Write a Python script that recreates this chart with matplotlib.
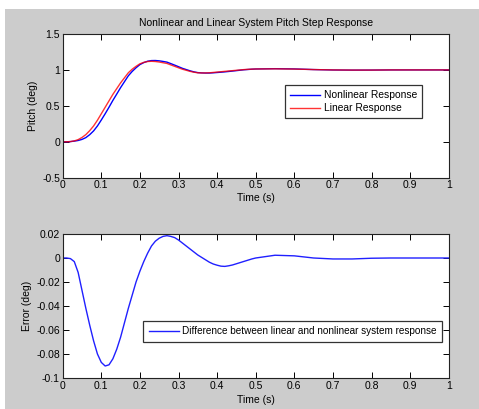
import matplotlib
matplotlib.use("Agg")
import matplotlib.pyplot as plt
from matplotlib.patches import Rectangle

# time samples (s)
t = [0.00, 0.01, 0.02, 0.03, 0.04, 0.05, 0.06, 0.07, 0.08, 0.09,
     0.10, 0.11, 0.12, 0.13, 0.14, 0.15, 0.16, 0.17, 0.18, 0.19,
     0.20, 0.21, 0.22, 0.23, 0.24, 0.25, 0.26, 0.27, 0.28, 0.29,
     0.30, 0.31, 0.32, 0.33, 0.34, 0.35, 0.36, 0.37, 0.38, 0.39,
     0.40, 0.41, 0.42, 0.43, 0.44, 0.45, 0.46, 0.47, 0.48, 0.49,
     0.50, 0.55, 0.60, 0.65, 0.70, 0.75, 0.80, 0.85, 0.90, 0.95, 1.00]

# linear model pitch (deg)
linear = [0.0, 0.0, 0.003, 0.012, 0.030, 0.060, 0.100, 0.155, 0.220, 0.300,
          0.390, 0.480, 0.570, 0.660, 0.740, 0.820, 0.890, 0.960, 1.010, 1.050,
          1.085, 1.105, 1.117, 1.120, 1.117, 1.110, 1.100, 1.090, 1.070, 1.050,
          1.030, 1.010, 0.995, 0.980, 0.968, 0.960, 0.958, 0.958, 0.960, 0.965,
          0.970, 0.975, 0.980, 0.985, 0.990, 0.995, 1.000, 1.005, 1.008, 1.011,
          1.013, 1.015, 1.012, 1.005, 1.000, 0.998, 0.998, 1.000, 1.000, 1.000, 1.000]

# nonlinear model pitch (deg)
nonlinear = [0.0, 0.0, 0.0025, 0.009, 0.018, 0.033, 0.058, 0.099, 0.151, 0.220,
             0.303, 0.390, 0.481, 0.576, 0.664, 0.754, 0.836, 0.918, 0.979, 1.030,
             1.074, 1.102, 1.121, 1.130, 1.131, 1.1265, 1.118, 1.1086, 1.088, 1.067,
             1.045, 1.0225, 1.005, 0.9875, 0.973, 0.9625, 0.9585, 0.9565, 0.9565, 0.960,
             0.964, 0.9682, 0.973, 0.9785, 0.9842, 0.9902, 0.9962, 1.0022, 1.0062, 1.0102,
             1.013, 1.0173, 1.0138, 1.005, 0.9992, 0.9972, 0.9978, 1.000, 1.000, 1.000, 1.000]

# nonlinear - linear (deg)
error = [0.0, 0.0, -0.0005, -0.003, -0.012, -0.027, -0.042, -0.056, -0.069, -0.080,
         -0.087, -0.090, -0.089, -0.084, -0.076, -0.066, -0.054, -0.042, -0.031, -0.020,
         -0.011, -0.003, 0.004, 0.010, 0.014, 0.0165, 0.018, 0.0186, 0.018, 0.017,
         0.015, 0.0125, 0.010, 0.0075, 0.005, 0.0025, 0.0005, -0.0015, -0.0035, -0.005,
         -0.006, -0.0068, -0.007, -0.0065, -0.0058, -0.0048, -0.0038, -0.0028, -0.0018, -0.0008,
         0.0, 0.0023, 0.0018, 0.0, -0.0008, -0.0008, -0.0002, 0.0, 0.0, 0.0, 0.0]

xticks = [0, 0.1, 0.2, 0.3, 0.4, 0.5, 0.6, 0.7, 0.8, 0.9, 1]
xticklabels = ['0', '0.1', '0.2', '0.3', '0.4', '0.5', '0.6', '0.7', '0.8', '0.9', '1']

plt.rcParams['font.family'] = ['Liberation Sans', 'DejaVu Sans']
plt.rcParams['font.size'] = 7.5

W, H = 479, 409
fig = plt.figure(figsize=(W / 100, H / 100), dpi=100, facecolor='white')
# gray MATLAB-style figure background
fig.patches.append(Rectangle((5 / W, 0), 1, 1 - 9 / H, transform=fig.transFigure,
                             facecolor='#cccccc', edgecolor='none', zorder=-10))


def styleAxes(ax):
    ax.set_facecolor('white')
    ax.tick_params(direction='in', length=4, width=0.7, top=True, right=True,
                   labelsize=7.5, pad=2, colors='black')
    for s in ax.spines.values():
        s.set_linewidth(0.8)
        s.set_color('#222222')
    ax.set_xticks(xticks)
    ax.set_xticklabels(xticklabels)


# Pitch response
ax1 = fig.add_axes([62.7 / W, 1 - 177.7 / H, 386 / W, 143.7 / H])
ax1.plot(t, nonlinear, color='#0000ff', lw=1.0, label='Nonlinear Response')
ax1.plot(t, linear, color='#ff0000', lw=1.0, alpha=0.8, label='Linear Response')
ax1.set_xlim(0, 1)
ax1.set_ylim(-0.5, 1.5)
ax1.set_yticks([-0.5, 0, 0.5, 1, 1.5])
ax1.set_yticklabels(['-0.5', '0', '0.5', '1', '1.5'])
styleAxes(ax1)
ax1.set_title('Nonlinear and Linear System Pitch Step Response', fontsize=7.5, pad=6)
ax1.set_xlabel('Time (s)', labelpad=2)
ax1.set_ylabel('Pitch (deg)', labelpad=3)
leg1 = ax1.legend(loc='upper left', bbox_to_anchor=(285 / W, 1 - 85 / H),
                  bbox_transform=fig.transFigure, borderaxespad=0, fancybox=False,
                  framealpha=1, edgecolor='#333333', handlelength=2.9,
                  handletextpad=0.4, borderpad=0.5, labelspacing=0.3, fontsize=7.4)
leg1.get_frame().set_linewidth(0.9)

# Error plot
ax2 = fig.add_axes([62.7 / W, 1 - 378 / H, 386 / W, 144 / H])
ax2.plot(t, error, color='#2020ff', lw=1.0,
         label='Difference between linear and nonlinear system response')
ax2.set_xlim(0, 1)
ax2.set_ylim(-0.1, 0.02)
ax2.set_yticks([-0.1, -0.08, -0.06, -0.04, -0.02, 0, 0.02])
ax2.set_yticklabels(['-0.1', '-0.08', '-0.06', '-0.04', '-0.02', '0', '0.02'])
styleAxes(ax2)
ax2.set_xlabel('Time (s)', labelpad=3)
ax2.set_ylabel('Error (deg)', labelpad=3)
leg2 = ax2.legend(loc='upper left', bbox_to_anchor=(143.3 / W, 1 - 320.7 / H),
                  bbox_transform=fig.transFigure, borderaxespad=0, fancybox=False,
                  framealpha=1, edgecolor='#333333', handlelength=3.0,
                  handletextpad=0.35, borderpad=0.55, fontsize=7.2)
leg2.get_frame().set_linewidth(0.9)

fig.savefig('out.png', dpi=100, facecolor=fig.get_facecolor())
